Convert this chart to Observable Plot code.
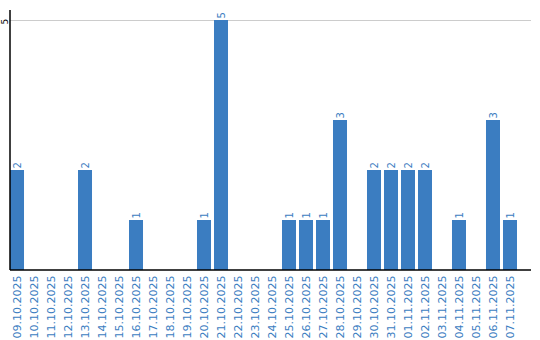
<!DOCTYPE html>
<html>
<head>
<meta charset="utf-8">
<script src="https://cdn.jsdelivr.net/npm/d3@7"></script>
<script src="https://cdn.jsdelivr.net/npm/@observablehq/plot@0.6"></script>
<style>
  html, body { margin: 0; padding: 0; background: #fff; }
  svg { display: block; }
</style>
</head>
<body>
<div id="chart"></div>
<script>
const dates = [
  "09.10.2025","10.10.2025","11.10.2025","12.10.2025","13.10.2025","14.10.2025",
  "15.10.2025","16.10.2025","17.10.2025","18.10.2025","19.10.2025","20.10.2025",
  "21.10.2025","22.10.2025","23.10.2025","24.10.2025","25.10.2025","26.10.2025",
  "27.10.2025","28.10.2025","29.10.2025","30.10.2025","31.10.2025","01.11.2025",
  "02.11.2025","03.11.2025","04.11.2025","05.11.2025","06.11.2025","07.11.2025"
];
const counts = [2,0,0,0,2,0,0,1,0,0,0,1,5,0,0,0,1,1,1,3,0,2,2,2,2,0,1,0,3,1];
const yTicks = [5];

const data = dates.map((d, i) => ({date: d, value: counts[i]}));
const blue = "#3b7dc1";

// axis lines drawn from the plot's own dimensions
function axisLines(index, scales, values, dimensions) {
  const {marginLeft, marginTop, height, marginBottom, width, marginRight} = dimensions;
  const g = d3.create("svg:g").attr("stroke", "#000").attr("stroke-width", 1.5);
  const y0 = height - marginBottom;
  g.append("line").attr("x1", marginLeft).attr("x2", width - marginRight).attr("y1", y0).attr("y2", y0);
  g.append("line").attr("x1", marginLeft).attr("x2", marginLeft).attr("y1", marginTop).attr("y2", y0);
  return g.node();
}

const chart = Plot.plot({
  width: 540,
  height: 340,
  marginLeft: 10,
  marginRight: 9,
  marginTop: 10,
  marginBottom: 70,
  style: {fontFamily: "DejaVu Sans", background: "#fff"},
  x: {domain: dates, range: [10, 517], paddingInner: 0.176, paddingOuter: 0, round: false, label: null, axis: null},
  y: {domain: [0, 5.2], label: null, axis: null},
  marks: [
    Plot.ruleY(yTicks, {stroke: "#cccccc", strokeWidth: 1}),
    Plot.barY(data, {x: "date", y: "value", fill: blue}),
    Plot.text(data.filter(d => d.value > 0), {
      x: "date", y: "value", text: d => String(d.value),
      rotate: -90, textAnchor: "start", dy: -2, fill: blue, fontSize: 10
    }),
    Plot.axisX({tickRotate: -90, tickSize: 0, tickPadding: 5, fill: blue, fontSize: 11, label: null}),
    Plot.text(yTicks, {
      y: d => d, text: d => String(d), frameAnchor: "left",
      dx: -5, dy: 4, rotate: -90, fill: "#000", fontSize: 9
    }),
    axisLines
  ]
});
document.getElementById("chart").appendChild(chart);
</script>
</body>
</html>
